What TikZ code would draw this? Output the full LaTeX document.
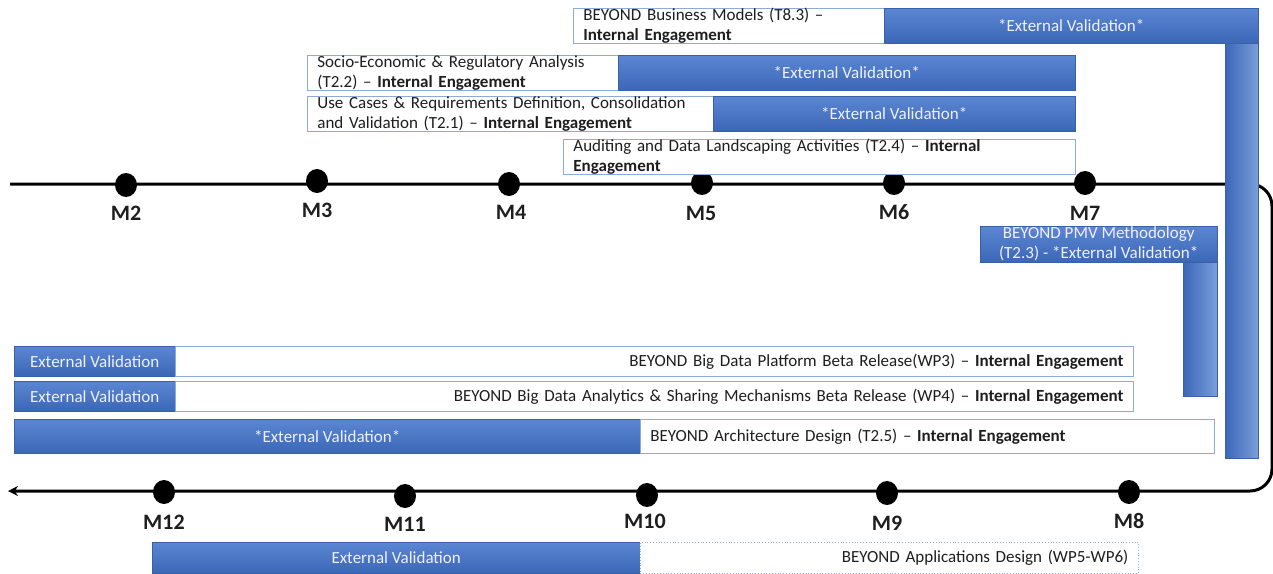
\documentclass[tikz,border=0pt]{standalone}
\usepackage{fontspec}
\setmainfont{Carlito}
\usetikzlibrary{positioning,shapes.geometric,arrows.meta}

\definecolor{barblue}{HTML}{4472C4}
\definecolor{bartop}{HTML}{5A86D2}
\definecolor{barbot}{HTML}{3B67B7}
\definecolor{boxedge}{HTML}{8EA9DB}
\definecolor{inktext}{HTML}{1E1E1E}

\newcommand\barfont{\fontsize{17}{20}\selectfont}
\newcommand\ie{\textbf{Internal Engagement}}

\tikzset{
  milestone/.style={ellipse, fill=black, minimum width=22, minimum height=24, inner sep=0},
  mlabel/.style={font=\fontsize{22}{24}\selectfont\bfseries, text=inktext},
  extbar/.style={rectangle, anchor=north west, inner sep=0, top color=bartop, bottom color=barbot,
    draw=barblue!85!black, line width=0.4, text=white!94!blue, font=\barfont, align=center},
  extdown/.style={rectangle, anchor=north west, inner sep=0, left color=barbot, right color=bartop!80!white,
    draw=barblue!85!black, line width=0.4},
  intbox/.style={rectangle, anchor=north west, inner xsep=10, inner ysep=0, fill=white,
    draw=boxedge, line width=0.8, text=inktext, font=\barfont},
}

\begin{document}
\begin{tikzpicture}[x=1pt, y=-1pt]
  \useasboundingbox (0,0) rectangle (1273,573);

  % timeline (runs right along the top, turns, comes back along the bottom)
  \coordinate (tl-start) at (10,184);
  \coordinate (tl-turn) at (1272,491);
  \coordinate (tl-end) at (8,491);
  \draw[line width=3, rounded corners=22, -{Stealth[length=10,width=10]}]
    (tl-start) -| (tl-turn) -- (tl-end);

  % milestones, first row
  \node[milestone] (m2) at (126,185) {};
  \node[milestone] (m3) at (317,181) {};
  \node[milestone] (m4) at (509,184) {};
  \node[milestone] (m5) at (702,183) {};
  \node[milestone] (m6) at (894,183) {};
  \node[milestone] (m7) at (1085,183) {};
  \node[mlabel] at (126,213) {M2};
  \node[mlabel] at (317,210) {M3};
  \node[mlabel] at (511,212) {M4};
  \node[mlabel] at (701,213) {M5};
  \node[mlabel] at (894,212) {M6};
  \node[mlabel] at (1085,213) {M7};

  % milestones, return row
  \node[milestone] (m8) at (1129,492) {};
  \node[milestone] (m9) at (887,493) {};
  \node[milestone] (m10) at (647,495) {};
  \node[milestone] (m11) at (405,496) {};
  \node[milestone] (m12) at (164,492) {};
  \node[mlabel] at (1129,521) {M8};
  \node[mlabel] at (887,523) {M9};
  \node[mlabel] at (645,521) {M10};
  \node[mlabel] at (405,524) {M11};
  \node[mlabel] at (164,522) {M12};

  % business models, validation bar turns down the right side
  \node[intbox, minimum width=311, minimum height=35, text width=291, align=left] (bm-int) at (573,8)
    {BEYOND Business Models (T8.3) –\\\ie};
  \node[extbar, minimum width=374, minimum height=35] (bm-ext) at (884,8) {*External Validation*};
  \node[extdown, minimum width=33, minimum height=415] (bm-down) at (1225,43) {};

  % WP2 tasks above the line
  \node[intbox, minimum width=311, minimum height=35, text width=291, align=left] (se-int) at (307,55)
    {Socio-Economic \& Regulatory Analysis\\(T2.2) – \ie};
  \node[extbar, minimum width=457, minimum height=35] (se-ext) at (618,55) {*External Validation*};

  \node[intbox, minimum width=406, minimum height=35, text width=386, align=left] (uc-int) at (307,96)
    {Use Cases \& Requirements Definition, Consolidation\\and Validation (T2.1) – \ie};
  \node[extbar, minimum width=362, minimum height=35] (uc-ext) at (713,96) {*External Validation*};

  \node[intbox, minimum width=512, minimum height=35, text width=492, align=left] (au-int) at (563,139)
    {Auditing and Data Landscaping Activities (T2.4) – \textbf{Internal}\\\textbf{Engagement}};

  % PMV methodology
  \node[extbar, minimum width=237, minimum height=36] (pmv-ext) at (980,226)
    {BEYOND PMV Methodology\\(T2.3) - *External Validation*};
  \node[extdown, minimum width=34, minimum height=134] (pmv-down) at (1183,262) {};

  % platform / analytics releases
  \node[extbar, minimum width=161, minimum height=30] (wp3-ext) at (14,346) {External Validation};
  \node[intbox, minimum width=958, minimum height=30, text width=938, align=right] (wp3-int) at (175,346)
    {BEYOND Big Data Platform Beta Release(WP3) – \ie};
  \node[extbar, minimum width=161, minimum height=30] (wp4-ext) at (14,381) {External Validation};
  \node[intbox, minimum width=958, minimum height=30, text width=938, align=right] (wp4-int) at (175,381)
    {BEYOND Big Data Analytics \& Sharing Mechanisms Beta Release (WP4) – \ie};

  % architecture
  \node[extbar, minimum width=626, minimum height=34] (ad-ext) at (14,419) {*External Validation*};
  \node[intbox, minimum width=574, minimum height=34, text width=554, align=left] (ad-int) at (640,419)
    {BEYOND Architecture Design (T2.5) – \ie};

  % applications
  \node[extbar, minimum width=488, minimum height=31] (app-ext) at (152,542) {External Validation};
  \node[intbox, dotted, minimum width=498, minimum height=31, text width=478, align=right] (app-int) at (640,542)
    {BEYOND Applications Design (WP5-WP6)};
\end{tikzpicture}
\end{document}
